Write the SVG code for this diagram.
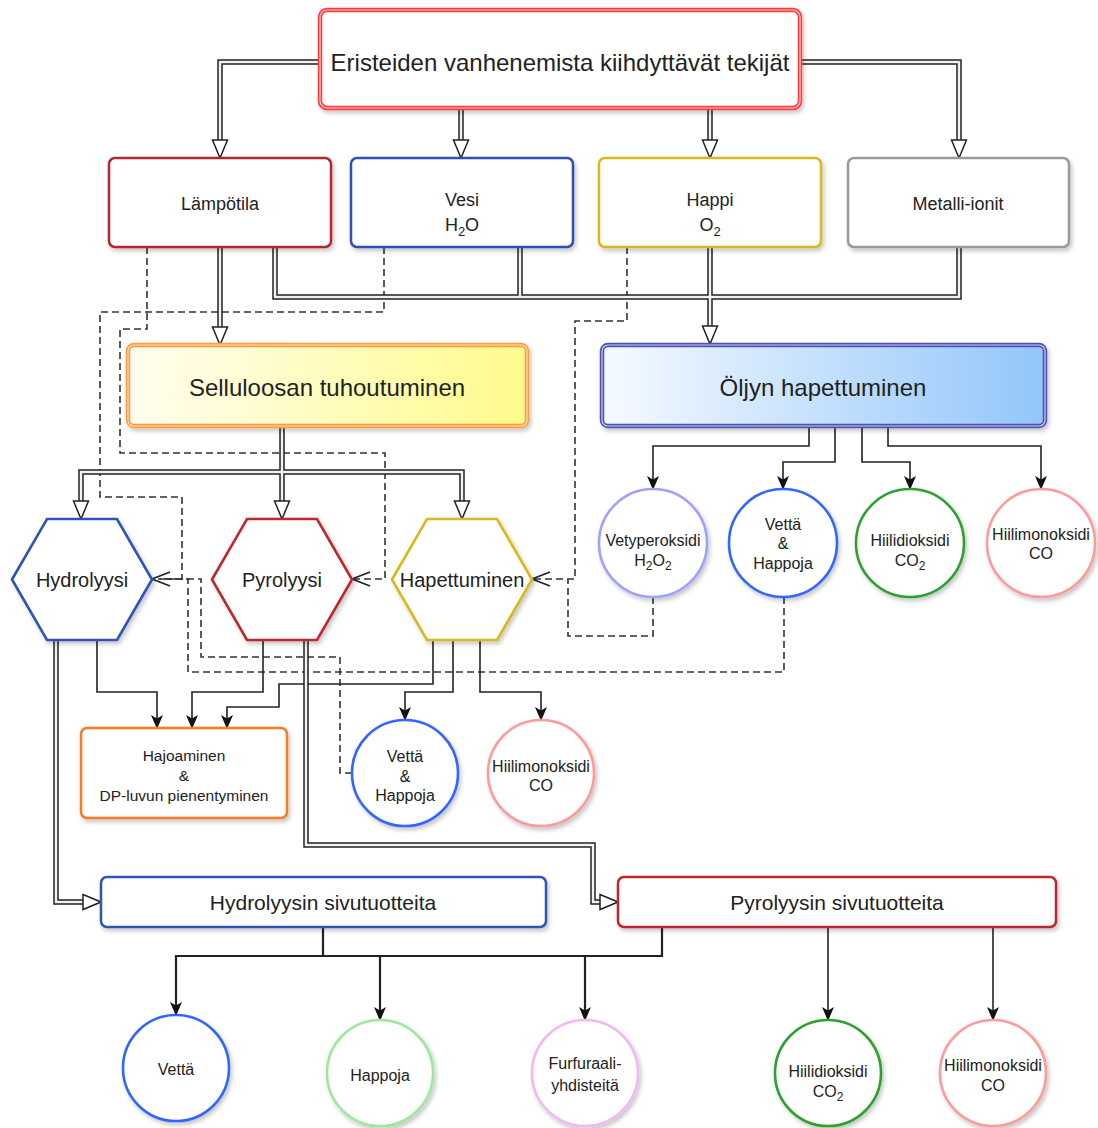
<svg xmlns="http://www.w3.org/2000/svg" width="1098" height="1128" viewBox="0 0 1098 1128">
<defs>
<style>
text{font-family:"Liberation Sans",Arial,sans-serif;fill:#222;text-anchor:middle}
.t24{font-size:24px}.t21{font-size:21px}.t20{font-size:20px}.t18{font-size:18px}.t16{font-size:16px}.t15{font-size:15.5px}
.pipeO{fill:none;stroke:#222;stroke-width:5.5}
.pipeI{fill:none;stroke:#f2f2f2;stroke-width:2.5}
.line{fill:none;stroke:#222;stroke-width:1.6}
.line2{fill:none;stroke:#222;stroke-width:2.2}
.dash{fill:none;stroke:#333;stroke-width:1.6;stroke-dasharray:7 4}
.sh{filter:url(#shadow)}
.box{fill:#fff;stroke-width:2.5}
.circ{fill:#fff;stroke-width:2.6}
.hex{fill:#fff;stroke-width:2.6}
</style>
<filter id="shadow" x="-10%" y="-10%" width="125%" height="130%">
<feDropShadow dx="2" dy="3" stdDeviation="2" flood-color="#000" flood-opacity="0.22"/>
</filter>
<linearGradient id="gSell" x1="0" y1="0" x2="1" y2="0">
<stop offset="0" stop-color="#fffdf0"/><stop offset="1" stop-color="#fffb8c"/>
</linearGradient>
<linearGradient id="gOil" x1="0" y1="0" x2="1" y2="0">
<stop offset="0" stop-color="#f6faff"/><stop offset="1" stop-color="#92c6fa"/>
</linearGradient>
<marker id="hollow" viewBox="0 0 20 18" refX="9" refY="9" markerWidth="20" markerHeight="18" markerUnits="userSpaceOnUse" orient="auto">
<path d="M1,1.5 L19,9 L1,16.5 Z" fill="#fff" stroke="#222" stroke-width="1.5"/>
</marker>
<marker id="filled" viewBox="0 0 14 12" refX="13" refY="6" markerWidth="14" markerHeight="12" markerUnits="userSpaceOnUse" orient="auto">
<path d="M0,0 L14,6 L0,12 L3.5,6 Z" fill="#111"/>
</marker>
<marker id="open" viewBox="0 0 20 16" refX="19" refY="8" markerWidth="20" markerHeight="16" markerUnits="userSpaceOnUse" orient="auto">
<path d="M1,1 L19,8 L1,15" fill="none" stroke="#222" stroke-width="1.6"/>
</marker>
</defs>
<rect width="1098" height="1128" fill="#fff"/>

<g id="connectors">
<!-- dashed -->
<path class="dash" d="M147,247 V329 H120 V453 H385 V579 H352" marker-end="url(#open)"/>
<path class="dash" d="M384,247 V312 H100 V497 H182 V579 H152" marker-end="url(#open)"/>
<path class="dash" d="M627,247 V321 H575 V579 H532" marker-end="url(#open)"/>
<path class="dash" d="M653,597 V636 H568 V579"/>
<path class="dash" d="M784,597 V672 H188 V579 H160"/>
<path class="dash" d="M352,773 H340 V657 H201 V579 H160"/>
<!-- single lines -->
<path class="line" d="M97,640 V692 H157 V728" marker-end="url(#filled)"/>
<path class="line" d="M263,640 V692 H192 V728" marker-end="url(#filled)"/>
<path class="line" d="M433,640 V684 H279 V707 H227 V728" marker-end="url(#filled)"/>
<path class="line" d="M453,640 V692 H405 V720" marker-end="url(#filled)"/>
<path class="line" d="M480,640 V692 H541 V720" marker-end="url(#filled)"/>
<path class="line" d="M809,427 V446 H653 V489" marker-end="url(#filled)"/>
<path class="line" d="M835,427 V462 H783 V489" marker-end="url(#filled)"/>
<path class="line" d="M862,427 V462 H910 V489" marker-end="url(#filled)"/>
<path class="line" d="M888,427 V446 H1041 V489" marker-end="url(#filled)"/>
<path class="line2" d="M323,927 V956 H176 V1015" marker-end="url(#filled)"/>
<path class="line2" d="M662,927 V956 H323"/>
<path class="line2" d="M380,956 V1020" marker-end="url(#filled)"/>
<path class="line2" d="M585,956 V1020" marker-end="url(#filled)"/>
<path class="line" d="M828,927 V1020" marker-end="url(#filled)"/>
<path class="line" d="M993,927 V1020" marker-end="url(#filled)"/>
<!-- pipes: outer -->
<path class="pipeO" d="M320,62 H220 V148"/>
<path class="pipeO" d="M461,108 V148"/>
<path class="pipeO" d="M710,108 V148"/>
<path class="pipeO" d="M800,62 H959 V148"/>
<path class="pipeO" d="M220,247 V335"/>
<path class="pipeO" d="M275,247 V297 H959 V247 M520,247 V297"/>
<path class="pipeO" d="M710,247 V334"/>
<path class="pipeO" d="M282,426 V509"/>
<path class="pipeO" d="M282,472 H81 V509"/>
<path class="pipeO" d="M282,472 H462 V509"/>
<path class="pipeO" d="M56,640 V902 H91"/>
<path class="pipeO" d="M306,640 V845 H593 V902 H608"/>
<!-- pipes: inner -->
<path class="pipeI" d="M320,62 H220 V148" marker-end="url(#hollow)"/>
<path class="pipeI" d="M461,108 V148" marker-end="url(#hollow)"/>
<path class="pipeI" d="M710,108 V148" marker-end="url(#hollow)"/>
<path class="pipeI" d="M800,62 H959 V148" marker-end="url(#hollow)"/>
<path class="pipeI" d="M220,247 V335" marker-end="url(#hollow)"/>
<path class="pipeI" d="M275,247 V297 H959 V247 M520,247 V297"/>
<path class="pipeI" d="M710,247 V334" marker-end="url(#hollow)"/>
<path class="pipeI" d="M282,426 V509" marker-end="url(#hollow)"/>
<path class="pipeI" d="M282,472 H81 V509" marker-end="url(#hollow)"/>
<path class="pipeI" d="M282,472 H462 V509" marker-end="url(#hollow)"/>
<path class="pipeI" d="M56,640 V902 H91" marker-end="url(#hollow)"/>
<path class="pipeI" d="M306,640 V845 H593 V902 H608" marker-end="url(#hollow)"/>
</g>

<g id="title">
<rect class="sh" x="320" y="10" width="480" height="98" rx="7" fill="#fff" stroke="#ff3b3b" stroke-width="4.5"/>
<rect x="320" y="10" width="480" height="98" rx="7" fill="none" stroke="#ffd0d0" stroke-width="1.2"/>
<text class="t24" x="560" y="70.5">Eristeiden vanhenemista kiihdyttävät tekijät</text>
</g>

<g id="lampotila">
<rect class="box sh" x="109" y="158" width="222" height="89" rx="6" stroke="#b5262e"/>
<text class="t18" x="220" y="209.5">Lämpötila</text>
</g>
<g id="vesi">
<rect class="box sh" x="351" y="158" width="222" height="89" rx="6" stroke="#2d4fb8"/>
<text class="t18" x="462" y="205.5">Vesi</text>
<text class="t18" x="462" y="231">H<tspan font-size="13" dy="5">2</tspan><tspan dy="-5">O</tspan></text>
</g>
<g id="happi">
<rect class="box sh" x="599" y="158" width="222" height="89" rx="6" stroke="#d9b81c"/>
<text class="t18" x="710" y="205.5">Happi</text>
<text class="t18" x="710" y="231">O<tspan font-size="13" dy="5">2</tspan></text>
</g>
<g id="metalli">
<rect class="box sh" x="848" y="158" width="221" height="89" rx="6" stroke="#9a9a9a"/>
<text class="t18" x="958" y="209.5">Metalli-ionit</text>
</g>

<g id="selluloosa">
<rect class="sh" x="128" y="345" width="399" height="81" rx="6" fill="url(#gSell)" stroke="#ff9a3c" stroke-width="4.5"/>
<rect x="128" y="345" width="399" height="81" rx="6" fill="none" stroke="#ffe0b8" stroke-width="1.2"/>
<text class="t24" x="327" y="395.5">Selluloosan tuhoutuminen</text>
</g>
<g id="oljy">
<rect class="sh" x="602" y="345" width="443" height="81" rx="6" fill="url(#gOil)" stroke="#4e52b2" stroke-width="4.5"/>
<rect x="602" y="345" width="443" height="81" rx="6" fill="none" stroke="#c8caf0" stroke-width="1.2"/>
<text class="t24" x="823" y="395.5">Öljyn hapettuminen</text>
</g>

<g id="hydrolyysi">
<polygon class="hex sh" points="12,579.5 47,519 117,519 152,579.5 117,640 47,640" stroke="#2d55b5"/>
<text class="t20" x="82" y="586.5">Hydrolyysi</text>
</g>
<g id="pyrolyysi">
<polygon class="hex sh" points="212,579.5 247,519 317,519 352,579.5 317,640 247,640" stroke="#c0282d"/>
<text class="t20" x="282" y="586.5">Pyrolyysi</text>
</g>
<g id="hapettuminen">
<polygon class="hex sh" points="392,579.5 427,519 497,519 532,579.5 497,640 427,640" stroke="#d9b81c"/>
<text class="t20" x="462" y="586.5">Hapettuminen</text>
</g>

<g id="vetyperoksidi">
<circle class="circ sh" cx="653" cy="543" r="54" stroke="#a0a0ff"/>
<text class="t16" x="653" y="546">Vetyperoksidi</text>
<text class="t16" x="653" y="566">H<tspan font-size="12" dy="4">2</tspan><tspan dy="-4">O</tspan><tspan font-size="12" dy="4">2</tspan></text>
</g>
<g id="vetta-happoja-1">
<circle class="circ sh" cx="783" cy="543" r="54" stroke="#3366ff"/>
<text class="t16" x="783" y="530">Vettä</text>
<text class="t16" x="783" y="549">&amp;</text>
<text class="t16" x="783" y="569">Happoja</text>
</g>
<g id="hiilidioksidi-1">
<circle class="circ sh" cx="910" cy="543" r="54" stroke="#2ea02e"/>
<text class="t16" x="910" y="546">Hiilidioksidi</text>
<text class="t16" x="910" y="566">CO<tspan font-size="12" dy="4">2</tspan></text>
</g>
<g id="hiilimonoksidi-1">
<circle class="circ sh" cx="1041" cy="543" r="54" stroke="#ff9a9a"/>
<text class="t16" x="1041" y="540">Hiilimonoksidi</text>
<text class="t16" x="1041" y="559">CO</text>
</g>

<g id="hajoaminen">
<rect class="box sh" x="81" y="728" width="206" height="90" rx="6" stroke="#ff7a1a"/>
<text class="t15" x="184" y="761">Hajoaminen</text>
<text class="t15" x="184" y="781">&amp;</text>
<text class="t15" x="184" y="801">DP-luvun pienentyminen</text>
</g>
<g id="vetta-happoja-2">
<circle class="circ sh" cx="405" cy="773" r="53" stroke="#3366ff"/>
<text class="t16" x="405" y="762">Vettä</text>
<text class="t16" x="405" y="782">&amp;</text>
<text class="t16" x="405" y="801">Happoja</text>
</g>
<g id="hiilimonoksidi-2">
<circle class="circ sh" cx="541" cy="773" r="53" stroke="#ff9a9a"/>
<text class="t16" x="541" y="772">Hiilimonoksidi</text>
<text class="t16" x="541" y="791">CO</text>
</g>

<g id="hydrolyysin-sivutuotteita">
<rect class="box sh" x="101" y="877" width="445" height="50" rx="6" stroke="#2d55b5"/>
<text class="t21" x="323" y="909.5">Hydrolyysin sivutuotteita</text>
</g>
<g id="pyrolyysin-sivutuotteita">
<rect class="box sh" x="618" y="877" width="438" height="50" rx="6" stroke="#c0282d"/>
<text class="t21" x="837" y="909.5">Pyrolyysin sivutuotteita</text>
</g>

<g id="vetta-3">
<circle class="circ sh" cx="176" cy="1068" r="53" stroke="#3366ff"/>
<text class="t16" x="176" y="1075">Vettä</text>
</g>
<g id="happoja-3">
<circle class="circ sh" cx="380" cy="1073" r="53" stroke="#9ee89e"/>
<text class="t16" x="380" y="1081">Happoja</text>
</g>
<g id="furfuraali">
<circle class="circ sh" cx="585" cy="1073" r="53" stroke="#f2b8f2"/>
<text class="t16" x="585" y="1069">Furfuraali-</text>
<text class="t16" x="585" y="1091">yhdisteitä</text>
</g>
<g id="hiilidioksidi-3">
<circle class="circ sh" cx="828" cy="1073" r="53" stroke="#2ea02e"/>
<text class="t16" x="828" y="1077">Hiilidioksidi</text>
<text class="t16" x="828" y="1097">CO<tspan font-size="12" dy="4">2</tspan></text>
</g>
<g id="hiilimonoksidi-3">
<circle class="circ sh" cx="993" cy="1073" r="53" stroke="#ff9a9a"/>
<text class="t16" x="993" y="1071">Hiilimonoksidi</text>
<text class="t16" x="993" y="1091">CO</text>
</g>
</svg>
